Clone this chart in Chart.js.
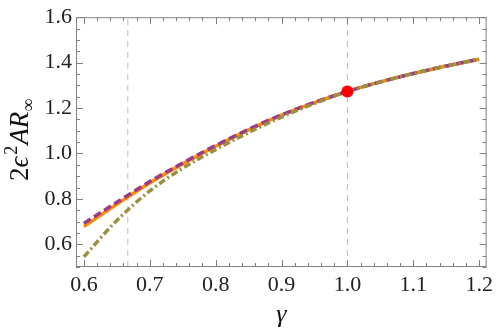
<!DOCTYPE html>
<html>
<head>
<meta charset="utf-8">
<script src="https://cdn.jsdelivr.net/npm/chart.js@4.4.0/dist/chart.umd.min.js"></script>
<style>
  html, body { margin: 0; padding: 0; background: #fff; }
  #wrap { width: 498px; height: 333px; }
</style>
</head>
<body>
<div id="wrap"><canvas id="plot"></canvas></div>
<script>
const gammaVals = [0.6, 0.65, 0.7, 0.75, 0.8, 0.85, 0.9, 0.95, 1.0, 1.05, 1.1, 1.15, 1.2];
// orange solid curve
const solidVals = [0.678, 0.776, 0.870, 0.954, 1.032, 1.104, 1.169, 1.224, 1.273, 1.315, 1.352, 1.385, 1.415];
// purple dashed curve
const dashedVals = [0.692, 0.785, 0.876, 0.958, 1.035, 1.106, 1.170, 1.225, 1.273, 1.315, 1.352, 1.385, 1.415];
// olive dot-dashed curve
const dotDashVals = [0.545, 0.705, 0.835, 0.935, 1.017, 1.092, 1.160, 1.220, 1.273, 1.315, 1.352, 1.385, 1.415];
// reference lines and the marked point
const markerGammas = [2 / 3, 1.0];
const pointGamma = [1.0];
const pointVal = [1.273];
// tick labels
const xTicks = [0.6, 0.7, 0.8, 0.9, 1.0, 1.1, 1.2];
const yTicks = [0.6, 0.8, 1.0, 1.2, 1.4, 1.6];

const X_MIN = 0.588, X_MAX = 1.2113;
const Y_MIN = 0.5, Y_MAX = 1.6;
const SERIF = "'Liberation Serif', serif";

Chart.defaults.font.family = SERIF;

const toPts = (xs, ys) => xs.map((x, i) => ({ x: x, y: ys[i] }));

const curve = (label, vals, color, dash, order) => ({
  label: label,
  data: toPts(gammaVals, vals),
  showLine: true,
  borderColor: color,
  borderWidth: 3.5,
  borderDash: dash,
  borderCapStyle: 'butt',
  pointRadius: 0,
  cubicInterpolationMode: 'monotone',
  order: order
});

const markerSets = markerGammas.map(g => ({
  label: 'marker',
  data: [{ x: g, y: Y_MIN }, { x: g, y: Y_MAX }],
  showLine: true,
  borderColor: '#bdbdbd',
  borderWidth: 1,
  borderDash: [6, 5],
  pointRadius: 0,
  order: 10
}));

// frame with inward ticks on all four sides, plus the axis titles
const framePlugin = {
  id: 'frame',
  afterDraw(chart) {
    const { ctx, chartArea: a, scales } = chart;
    const xs = scales.x, ys = scales.y;
    ctx.save();
    ctx.strokeStyle = '#808080';
    ctx.lineWidth = 1;
    ctx.strokeRect(a.left + 0.5, a.top + 0.5, a.right - a.left - 1, a.bottom - a.top - 1);
    ctx.beginPath();
    for (let i = 0; i <= 30; i++) {
      const v = 0.6 + i * 0.02;
      const px = Math.round(xs.getPixelForValue(v)) + 0.5;
      const len = i % 5 === 0 ? 7 : 4;
      ctx.moveTo(px, a.bottom); ctx.lineTo(px, a.bottom - len);
      ctx.moveTo(px, a.top); ctx.lineTo(px, a.top + len);
    }
    for (let i = 0; i <= 22; i++) {
      const v = 0.5 + i * 0.05;
      const py = Math.round(ys.getPixelForValue(v)) + 0.5;
      const len = (i % 4 === 2) ? 7 : 4;
      ctx.moveTo(a.left, py); ctx.lineTo(a.left + len, py);
      ctx.moveTo(a.right, py); ctx.lineTo(a.right - len, py);
    }
    ctx.stroke();

    // x title
    ctx.fillStyle = '#111';
    ctx.textAlign = 'center';
    ctx.textBaseline = 'alphabetic';
    ctx.font = 'italic 26px ' + SERIF;
    ctx.fillText('γ', (a.left + a.right) / 2, 322);

    // y title: 2ϵ²AR∞ with super/subscript
    const big = '27px ' + SERIF;
    const bigIt = 'italic 27px ' + SERIF;
    const small = '18px ' + SERIF;
    const parts = [
      { t: '2', f: big, dy: 0, gap: 0 },
      { t: 'ϵ', f: bigIt, dy: 0, gap: 2 },
      { t: '2', f: small, dy: -11, gap: 1 },
      { t: 'AR', f: bigIt, dy: 0, gap: 0 },
      { t: '∞', f: small, dy: 6, gap: 0 }
    ];
    let total = 0;
    parts.forEach(p => { ctx.font = p.f; p.w = ctx.measureText(p.t).width + p.gap; total += p.w; });
    ctx.translate(28, 140);
    ctx.rotate(-Math.PI / 2);
    ctx.textAlign = 'left';
    let cx = -total / 2;
    parts.forEach(p => { ctx.font = p.f; ctx.fillText(p.t, cx, p.dy); cx += p.w; });
    ctx.restore();
  }
};

new Chart(document.getElementById('plot'), {
  type: 'scatter',
  data: {
    datasets: [
      {
        label: 'point',
        data: toPts(pointGamma, pointVal),
        pointRadius: 6,
        pointBackgroundColor: '#ff0000',
        pointBorderWidth: 0,
        order: 0
      },
      curve('dot-dashed', dotDashVals, '#9a9040', [7, 3, 2, 3], 1),
      curve('dashed', dashedVals, '#993c86', [8, 4], 2),
      curve('solid', solidVals, '#ff8a10', [], 3),
      ...markerSets
    ]
  },
  options: {
    responsive: true,
    maintainAspectRatio: false,
    animation: false,
    layout: { padding: { left: 0, top: 10, right: 6, bottom: 0 } },
    plugins: { legend: { display: false }, tooltip: { enabled: false } },
    scales: {
      x: {
        type: 'linear',
        min: X_MIN, max: X_MAX,
        afterBuildTicks: s => { s.ticks = xTicks.map(v => ({ value: v })); },
        afterFit: s => { s.height = 66; },
        grid: { display: false, drawTicks: false },
        border: { display: false },
        ticks: {
          callback: v => v.toFixed(1),
          font: { family: SERIF, size: 22 },
          color: '#222',
          padding: 5,
          maxRotation: 0
        }
      },
      y: {
        type: 'linear',
        min: Y_MIN, max: Y_MAX,
        afterBuildTicks: s => { s.ticks = yTicks.map(v => ({ value: v })); },
        afterFit: s => { s.width = 76; },
        grid: { display: false, drawTicks: false },
        border: { display: false },
        ticks: {
          callback: v => v.toFixed(1),
          font: { family: SERIF, size: 22 },
          color: '#222',
          padding: 4
        }
      }
    }
  },
  plugins: [framePlugin]
});
</script>
</body>
</html>
